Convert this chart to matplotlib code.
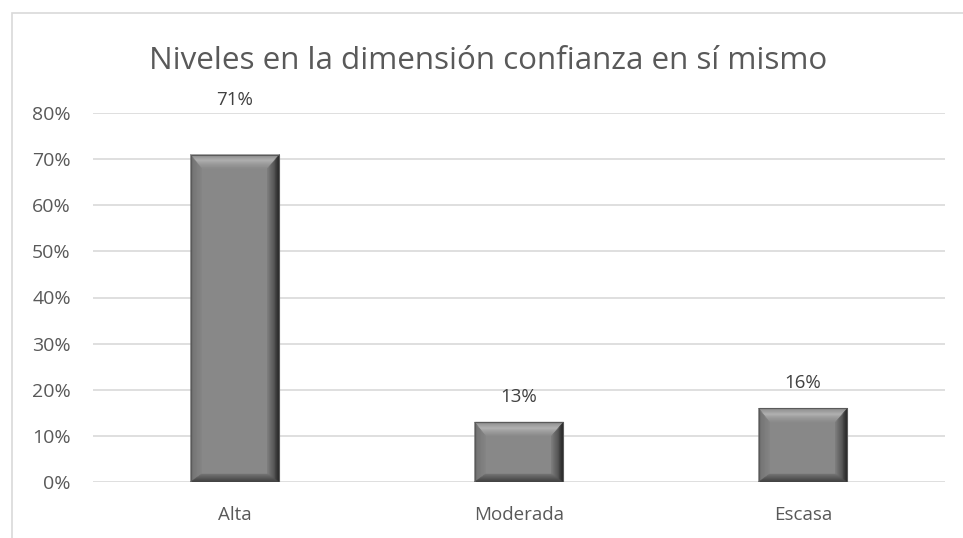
import matplotlib.pyplot as plt
import numpy as np
from matplotlib.patches import Polygon, Rectangle

# Datos
categorias = ['Alta', 'Moderada', 'Escasa']
porcentajes = [71, 13, 16]
ticks_y = [0, 10, 20, 30, 40, 50, 60, 70, 80]

plt.rcParams['font.family'] = ['Open Sans', 'DejaVu Sans']
gris_texto = '#595959'

fig = plt.figure(figsize=(9.63, 5.38), dpi=100)
ax = fig.add_axes([93 / 963, 56 / 538, 852 / 963, 369 / 538])

# Marco del gráfico
fig.patches.append(Rectangle((12 / 963, -0.01), 1.0, (538 - 13) / 538 + 0.01,
                             transform=fig.transFigure, fill=False,
                             edgecolor='#d9d9d9', linewidth=1.2))

x = np.arange(len(categorias))
ancho = 0.313
ax.set_xlim(-0.5, len(categorias) - 0.5)
ax.set_ylim(0, 80)

barras = ax.bar(x, porcentajes, width=ancho, color='#888888', zorder=3)

# Efecto biselado (degradado por franjas)
fig.canvas.draw()
to_px = ax.transData
to_data = ax.transData.inverted()
bisel = {'izq': 11, 'sup': 14, 'der': 12, 'inf': 8}  # px
paradas = {
    'sup': ([0, 0.15, 0.45, 0.6, 1], [0x80, 0x98, 0xb4, 0xa4, 0x8a]),
    'izq': ([0, 0.3, 1], [0x68, 0x76, 0x84]),
    'der': ([0, 0.15, 0.5, 1], [0x18, 0x2c, 0x55, 0x7c]),
    'inf': ([0, 0.4, 1], [0x3c, 0x50, 0x72]),
}
n = 14
for barra in barras:
    x0 = barra.get_x()
    x1 = x0 + barra.get_width()
    y1 = barra.get_height()
    (px0, py0), (px1, py1) = to_px.transform([(x0, 0), (x1, y1)])

    def rect(f):
        return (px0 + f * bisel['izq'], py0 + f * bisel['inf'],
                px1 - f * bisel['der'], py1 - f * bisel['sup'])

    for i in range(n):
        fa, fb = i / n, (i + 1) / n
        a0, b0, a1, b1 = rect(fa)
        c0, d0, c1, d1 = rect(fb)
        caras = {
            'sup': [(a0, b1), (a1, b1), (c1, d1), (c0, d1)],
            'izq': [(a0, b0), (a0, b1), (c0, d1), (c0, d0)],
            'der': [(a1, b0), (a1, b1), (c1, d1), (c1, d0)],
            'inf': [(a0, b0), (a1, b0), (c1, d0), (c0, d0)],
        }
        fm = (fa + fb) / 2
        for lado, pts in caras.items():
            xs, vs = paradas[lado]
            g = np.interp(fm, xs, vs) / 255
            ax.add_patch(Polygon(to_data.transform(pts), closed=True,
                                 facecolor=(g, g, g), edgecolor=(g, g, g),
                                 linewidth=0.3, zorder=4))
    ax.add_patch(Rectangle((x0, 0), x1 - x0, y1, fill=False, edgecolor='#5a5a5a',
                           linewidth=0.8, zorder=6))

# Etiquetas de datos
desplazamiento = [39, 18, 18]  # pt sobre la barra
for xi, v, d in zip(x, porcentajes, desplazamiento):
    ax.annotate(f'{v}%', (xi, v), xytext=(0, d), textcoords='offset points',
                ha='center', va='center', fontsize=13.5, color='#404040')

ax.set_yticks(ticks_y)
ax.set_yticklabels([f'{t}%' for t in ticks_y], fontsize=14, color=gris_texto)
ax.set_xticks(x)
ax.set_xticklabels(categorias, fontsize=13.5, color=gris_texto)
ax.tick_params(axis='y', length=0, pad=16)
ax.tick_params(axis='x', length=0, pad=17)
ax.grid(axis='y', color='#d9d9d9', linewidth=1.2, zorder=0)
for s in ax.spines.values():
    s.set_visible(False)

fig.text(488 / 963, (538 - 61) / 538, 'Niveles en la dimensión confianza en sí mismo',
         ha='center', va='center', fontsize=22.6, color=gris_texto)

fig.savefig('out.png', dpi=100)
